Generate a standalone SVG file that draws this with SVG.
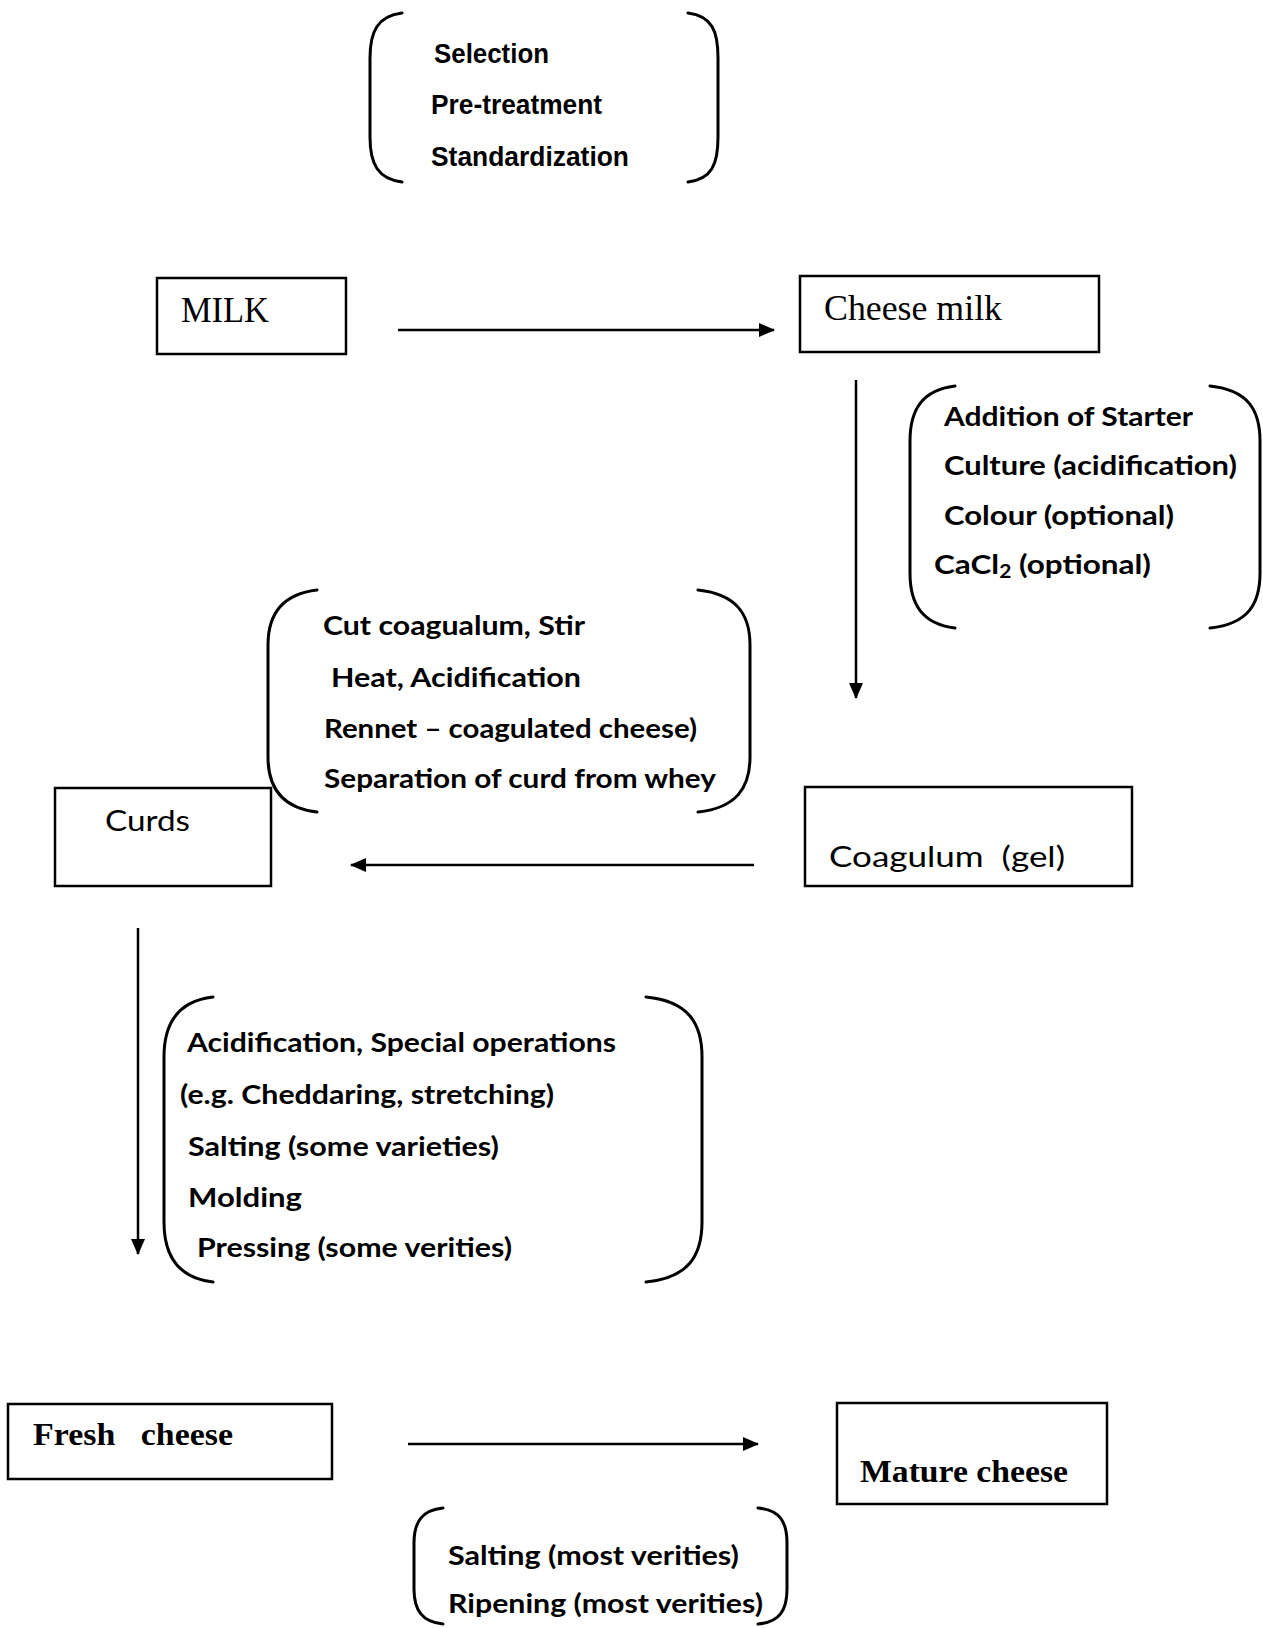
<svg xmlns="http://www.w3.org/2000/svg" width="1263" height="1628" viewBox="0 0 1263 1628">
<style>
.bg{fill:#ffffff}
.box{fill:none;stroke:#000;stroke-width:2.5}
.br{fill:none;stroke:#000;stroke-width:3;stroke-linecap:round}
.ar{fill:none;stroke:#000;stroke-width:2.5}
.t1{font-family:"Liberation Sans",Arial,sans-serif;font-weight:bold;font-size:27px;fill:#000}
.g{font-family:Lato,"Open Sans","Liberation Sans",sans-serif;font-weight:bold;font-size:27px;fill:#000}
.gn{font-family:Lato,"Open Sans","Liberation Sans",sans-serif;font-weight:normal;font-size:28px;fill:#000}
.tm{font-family:"Liberation Serif","Times New Roman",serif;font-size:35px;fill:#000}
.tb{font-family:"Liberation Serif","Times New Roman",serif;font-weight:bold;font-size:32px;fill:#000}
</style>
<defs>
<marker id="ah" viewBox="0 0 16 14" refX="15" refY="7" markerWidth="16" markerHeight="14" markerUnits="userSpaceOnUse" orient="auto"><path d="M0,0 L16,7 L0,14 z" fill="#000"/></marker>
</defs>
<rect class="bg" x="0" y="0" width="1263" height="1628"/>

<g id="prep-steps">
<path class="br" d="M402,13 C378,16 370,31 370,58 L370,137 C370,164 378,179 402,182"/>
<path class="br" d="M688,13 C712,16 718,31 718,58 L718,137 C718,164 712,179 688,182"/>
<text class="t1" x="434" y="63" textLength="115" lengthAdjust="spacingAndGlyphs">Selection</text>
<text class="t1" x="431" y="114" textLength="171" lengthAdjust="spacingAndGlyphs">Pre-treatment</text>
<text class="t1" x="431" y="166" textLength="198" lengthAdjust="spacingAndGlyphs">Standardization</text>
</g>

<g id="milk">
<rect class="box" x="157" y="278" width="189" height="76"/>
<text class="tm" x="181" y="322" textLength="88" lengthAdjust="spacingAndGlyphs">MILK</text>
</g>

<g id="cheese-milk">
<rect class="box" x="800" y="276" width="299" height="76"/>
<text class="tm" x="824" y="320" textLength="178" lengthAdjust="spacingAndGlyphs">Cheese milk</text>
</g>

<g id="starter-steps">
<path class="br" d="M955,386 C922,390 910,410 910,441 L910,573 C910,604 922,624 955,628"/>
<path class="br" d="M1210,386 C1248,390 1260,410 1260,441 L1260,573 C1260,604 1248,624 1210,628"/>
<text class="g" x="944" y="426" textLength="249" lengthAdjust="spacingAndGlyphs">Addition of Starter</text>
<text class="g" x="944" y="475" textLength="293" lengthAdjust="spacingAndGlyphs">Culture (acidification)</text>
<text class="g" x="944" y="525" textLength="230" lengthAdjust="spacingAndGlyphs">Colour (optional)</text>
<text class="g" x="934" y="574" textLength="217" lengthAdjust="spacingAndGlyphs">CaCl<tspan font-size="18" dy="4">2</tspan><tspan dy="-4">&#160;(optional)</tspan></text>
</g>

<g id="curd-steps">
<path class="br" d="M317,590 C282,594 268,614 268,645 L268,757 C268,788 282,808 317,812"/>
<path class="br" d="M698,590 C736,594 750,614 750,645 L750,757 C750,788 736,808 698,812"/>
<text class="g" x="323" y="635" textLength="262" lengthAdjust="spacingAndGlyphs">Cut coagualum, Stir</text>
<text class="g" x="331" y="687" textLength="250" lengthAdjust="spacingAndGlyphs">Heat, Acidification</text>
<text class="g" x="324" y="738" textLength="373" lengthAdjust="spacingAndGlyphs">Rennet – coagulated cheese)</text>
<text class="g" x="324" y="788" textLength="392" lengthAdjust="spacingAndGlyphs">Separation of curd from whey</text>
</g>

<g id="curds">
<rect class="box" x="55" y="788" width="216" height="98"/>
<text class="gn" x="105" y="831" textLength="85" lengthAdjust="spacingAndGlyphs">Curds</text>
</g>

<g id="coagulum">
<rect class="box" x="805" y="787" width="327" height="99"/>
<text class="gn" x="829" y="867" textLength="236" lengthAdjust="spacingAndGlyphs">Coagulum&#160; (gel)</text>
</g>

<g id="shaping-steps">
<path class="br" d="M213,997 C178,1001 164,1023 164,1057 L164,1222 C164,1256 178,1278 213,1282"/>
<path class="br" d="M646,997 C688,1001 702,1023 702,1057 L702,1222 C702,1256 688,1278 646,1282"/>
<text class="g" x="187" y="1052" textLength="429" lengthAdjust="spacingAndGlyphs">Acidification, Special operations</text>
<text class="g" x="180" y="1104" textLength="374" lengthAdjust="spacingAndGlyphs">(e.g. Cheddaring, stretching)</text>
<text class="g" x="188" y="1156" textLength="311" lengthAdjust="spacingAndGlyphs">Salting (some varieties)</text>
<text class="g" x="188" y="1207" textLength="114" lengthAdjust="spacingAndGlyphs">Molding</text>
<text class="g" x="197" y="1257" textLength="315" lengthAdjust="spacingAndGlyphs">Pressing (some verities)</text>
</g>

<g id="fresh-cheese">
<rect class="box" x="8" y="1404" width="324" height="75"/>
<text class="tb" x="33" y="1445" textLength="200" lengthAdjust="spacingAndGlyphs">Fresh&#160;&#160; cheese</text>
</g>

<g id="mature-cheese">
<rect class="box" x="837" y="1403" width="270" height="101"/>
<text class="tb" x="860" y="1482" textLength="208" lengthAdjust="spacingAndGlyphs">Mature cheese</text>
</g>

<g id="ripening-steps">
<path class="br" d="M443,1508 C422,1510 414,1522 414,1543 L414,1589 C414,1610 422,1622 443,1624"/>
<path class="br" d="M758,1508 C780,1510 787,1522 787,1543 L787,1589 C787,1610 780,1622 758,1624"/>
<text class="g" x="448" y="1565" textLength="291" lengthAdjust="spacingAndGlyphs">Salting (most verities)</text>
<text class="g" x="448" y="1613" textLength="315" lengthAdjust="spacingAndGlyphs">Ripening (most verities)</text>
</g>

<g id="connectors">
<line class="ar" x1="398" y1="330" x2="774" y2="330" marker-end="url(#ah)"/>
<line class="ar" x1="856" y1="380" x2="856" y2="698" marker-end="url(#ah)"/>
<line class="ar" x1="754" y1="865" x2="351" y2="865" marker-end="url(#ah)"/>
<line class="ar" x1="138" y1="928" x2="138" y2="1254" marker-end="url(#ah)"/>
<line class="ar" x1="408" y1="1444" x2="758" y2="1444" marker-end="url(#ah)"/>
</g>
</svg>
